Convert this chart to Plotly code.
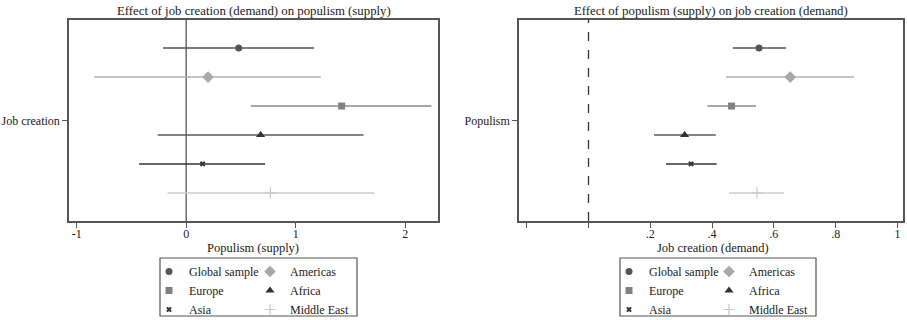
import plotly.graph_objects as go

# ---- data ----
groups = ["Global sample", "Americas", "Europe", "Africa", "Asia", "Middle East"]
# Left: effect of job creation on populism
jc_est = [0.48, 0.20, 1.42, 0.68, 0.15, 0.77]
jc_lo = [-0.21, -0.84, 0.59, -0.26, -0.43, -0.17]
jc_hi = [1.17, 1.23, 2.24, 1.62, 0.72, 1.72]
# Right: effect of populism on job creation
pop_est = [0.552, 0.653, 0.463, 0.311, 0.332, 0.545]
pop_lo = [0.467, 0.445, 0.385, 0.212, 0.251, 0.455]
pop_hi = [0.640, 0.860, 0.542, 0.412, 0.415, 0.633]

left_ticks = [-1, 0, 1, 2]
left_ticklabels = ["-1", "0", "1", "2"]
right_ticks = [-0.2, 0, 0.2, 0.4, 0.6, 0.8, 1.0]
right_ticklabels = ["", "", ".2", ".4", ".6", ".8", "1"]

# ---- styles ----
symbols = ["circle", "diamond", "square", "triangle-up", "x", "cross-thin"]
msizes = [7, 9, 7, 8, 5, 8]
mcolors = ["#555555", "#a8a8a8", "#808080", "#333333", "#333333", "#c8c8c8"]
lcolors = ["#555555", "#b0b0b0", "#8a8a8a", "#5a5a5a", "#333333", "#cccccc"]
FONT = "Liberation Serif"
TXT = "#1a1a1a"
FRAME = "#555555"

n = len(groups)
ypos = [(n - 1) / 2 - i for i in range(n)]

fig = go.Figure()

def add_panel(est, lo, hi, xa, ya, leg_a, leg_b):
    for i in range(n):
        fig.add_trace(go.Scatter(
            x=[est[i]], y=[ypos[i]], mode="markers", name=groups[i],
            xaxis=xa, yaxis=ya,
            legend=leg_a if i % 2 == 0 else leg_b,
            marker=dict(symbol=symbols[i], size=msizes[i], color=mcolors[i],
                        line=dict(width=1.2 if symbols[i] == "cross-thin" else 0,
                                  color=mcolors[i])),
            error_x=dict(type="data", symmetric=False,
                         array=[hi[i] - est[i]], arrayminus=[est[i] - lo[i]],
                         width=0, thickness=1.5, color=lcolors[i]),
            hoverinfo="skip",
        ))

add_panel(jc_est, jc_lo, jc_hi, "x", "y", "legend", "legend2")
add_panel(pop_est, pop_lo, pop_hi, "x2", "y2", "legend3", "legend4")

axis_common = dict(showgrid=False, zeroline=False, showline=True, mirror=True,
                   linecolor=FRAME, linewidth=1.5, ticks="outside", tickcolor=FRAME,
                   tickwidth=1.2, tickfont=dict(family=FONT, size=12, color=TXT))

W, H = 907, 320
ml, mr, mt, mb = 69, 4, 20, 99
pw = W - ml - mr
ph = H - mt - mb

def px(xp):
    return (xp - ml) / pw

def py(yp):
    return (H - mb - yp) / ph

leg_common = dict(orientation="v", yanchor="top", xanchor="left", bgcolor="rgba(0,0,0,0)",
                  borderwidth=0, font=dict(family=FONT, size=12, color=TXT),
                  tracegroupgap=0, itemclick=False)

fig.update_layout(
    width=W, height=H,
    margin=dict(l=ml, r=mr, t=mt, b=mb, autoexpand=False),
    paper_bgcolor="white", plot_bgcolor="white",
    showlegend=True,
    xaxis=dict(domain=[0, px(438)], range=[-1.07, 2.3], tickvals=left_ticks,
               ticktext=left_ticklabels, ticklen=5, ticklabelstandoff=-4,
               anchor="y", **axis_common),
    yaxis=dict(domain=[0, 1], range=[-3.47, 3.47], tickvals=[0],
               ticktext=["Job creation"], ticklen=5, anchor="x", **axis_common),
    xaxis2=dict(domain=[px(519), 1], range=[-0.225, 1.018], tickvals=right_ticks,
                ticktext=right_ticklabels, ticklen=5, ticklabelstandoff=-4,
                anchor="y2", **axis_common),
    yaxis2=dict(domain=[0, 1], range=[-3.47, 3.47], tickvals=[0],
                ticktext=["Populism"], ticklen=5, anchor="x2", **axis_common),
    legend=dict(x=px(149), y=py(257), **leg_common),
    legend2=dict(x=px(250), y=py(257), **leg_common),
    legend3=dict(x=px(609), y=py(257), **leg_common),
    legend4=dict(x=px(709), y=py(257), **leg_common),
    shapes=[
        dict(type="line", xref="x", yref="y domain", x0=0, x1=0, y0=0, y1=1,
             line=dict(color=FRAME, width=1.3), layer="below"),
        dict(type="line", xref="x2", yref="y2 domain", x0=0, x1=0, y0=0, y1=1,
             line=dict(color="#333333", width=1.3, dash="dash"), layer="below"),
        dict(type="rect", xref="paper", yref="paper", x0=px(160), x1=px(357),
             y0=py(316), y1=py(258), line=dict(color=FRAME, width=1.2)),
        dict(type="rect", xref="paper", yref="paper", x0=px(620), x1=px(816),
             y0=py(316), y1=py(258), line=dict(color=FRAME, width=1.2)),
    ],
    annotations=[
        dict(text="Effect of job creation (demand) on populism (supply)",
             xref="paper", yref="paper", x=px((69 + 438) / 2), y=py(11),
             xanchor="center", yanchor="middle", showarrow=False,
             font=dict(family=FONT, size=12.8, color=TXT)),
        dict(text="Effect of populism (supply) on job creation (demand)",
             xref="paper", yref="paper", x=px((519 + 903) / 2), y=py(11),
             xanchor="center", yanchor="middle", showarrow=False,
             font=dict(family=FONT, size=12.8, color=TXT)),
        dict(text="Populism (supply)",
             xref="paper", yref="paper", x=px(253), y=py(248),
             xanchor="center", yanchor="middle", showarrow=False,
             font=dict(family=FONT, size=12.5, color=TXT)),
        dict(text="Job creation (demand)",
             xref="paper", yref="paper", x=px(712.5), y=py(248),
             xanchor="center", yanchor="middle", showarrow=False,
             font=dict(family=FONT, size=12.5, color=TXT)),
    ],
)

fig.write_html("out.html")
